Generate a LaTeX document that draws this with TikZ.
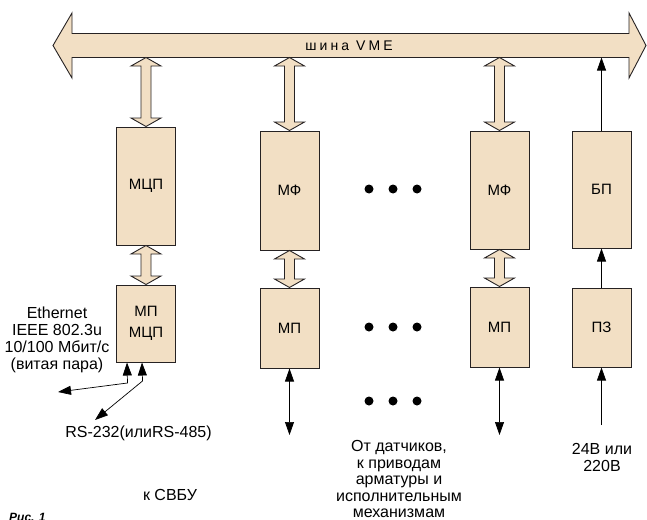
\documentclass[tikz,border=0pt]{standalone}
\usepackage{fontspec}
\setmainfont{Liberation Sans}
\usetikzlibrary{arrows.meta,calc}
\definecolor{beige}{RGB}{242,223,196}
\definecolor{edge}{RGB}{38,34,35}
\newcommand\fatarr[2]{%
  \path[fat] let \p1=#1, \p2=#2 in
  (\x1,\y1) -- (\x1+15pt,\y1-8.5pt) -- (\x1+5pt,\y1-8.5pt) -- (\x1+5pt,\y2+8.5pt)
  -- (\x1+15pt,\y2+8.5pt) -- (\x1,\y2) -- (\x1-15pt,\y2+8.5pt) -- (\x1-5pt,\y2+8.5pt)
  -- (\x1-5pt,\y1-8.5pt) -- (\x1-15pt,\y1-8.5pt) -- cycle;}
\begin{document}
\begin{tikzpicture}[x=1pt,y=-1pt,
  box/.style={draw=edge,fill=beige,line width=1pt,minimum width=59pt,inner sep=0pt,
    font=\fontsize{15}{21}\selectfont},
  fat/.style={draw=edge,fill=beige,line width=0.9pt,line join=miter},
  arrA/.style={draw=black,line width=0.7pt,-{Triangle[length=13pt,width=9pt]}},
  arrB/.style={draw=black,line width=0.7pt,{Triangle[length=13pt,width=9pt]}-{Triangle[length=13pt,width=9pt]}},
  dot/.style={circle,fill=black,inner sep=0pt,minimum size=9pt},
  lbl/.style={align=center,inner sep=0pt,font=\fontsize{16}{17}\selectfont}]
\useasboundingbox (0,0) rectangle (647,519);
% bus
\coordinate (busL) at (53,45.5);
\coordinate (busR) at (646,45.5);
\path[fat] (busL) -- (72,13) -- (72,33.5) -- (629,33.5) -- (629,13) -- (busR)
  -- (629,78) -- (629,57.5) -- (72,57.5) -- (72,78) -- cycle;
\node[inner sep=0pt,font=\fontsize{14}{16}\selectfont] (bus) at (349,45.5)
  {\addfontfeature{LetterSpace=22}шина VME};
\coordinate (b1) at (146,57.5);
\coordinate (b2) at (289.5,57.5);
\coordinate (b3) at (499.5,57.5);
\coordinate (b4) at (601.5,57.5);
% boxes
\node[box,minimum height=118pt] (mcp) at (146,186) {МЦП};
\node[box,minimum height=77pt,align=center] (mpmcp) at (146,323.5) {МП\\МЦП};
\node[box,minimum height=119pt] (mf1) at (289.5,190.5) {МФ};
\node[box,minimum height=80pt] (mp1) at (289.5,328) {МП};
\node[box,minimum height=118pt] (mf2) at (499.5,190) {МФ};
\node[box,minimum height=80pt] (mp2) at (499.5,327) {МП};
\node[box,minimum height=117pt] (bp) at (601.5,189.5) {БП};
\node[box,minimum height=79pt] (pz) at (601.5,327.5) {ПЗ};
% fat arrows
\fatarr{(b1)}{(mcp.north)}
\fatarr{(mcp.south)}{(mpmcp.north)}
\fatarr{(b2)}{(mf1.north)}
\fatarr{(mf1.south)}{(mp1.north)}
\fatarr{(b3)}{(mf2.north)}
\fatarr{(mf2.south)}{(mp2.north)}
% thin arrows
\coordinate (e1) at (289.5,435);
\coordinate (e2) at (499.5,435);
\coordinate (e3) at (601.5,425);
\draw[arrB] (mp1.south) -- (e1);
\draw[arrB] (mp2.south) -- (e2);
\draw[arrA] (e3) -- (pz.south);
\draw[arrA] (pz.north) -- (bp.south);
\draw[arrA] (bp.north) -- (b4);
\coordinate (p1) at ($(mpmcp.south west)+(11,0)$);
\coordinate (p2) at ($(mpmcp.south west)+(26,0)$);
\coordinate (k1) at (127.5,383);
\coordinate (k2) at (142.5,381);
\coordinate (eth) at (58,392);
\coordinate (rs) at (95,420);
\draw[arrB] (eth) -- (k1) -- (p1);
\draw[arrB] (rs) -- (k2) -- (p2);
% dots
\foreach \x [count=\i] in {369,393,417}{
  \foreach \y [count=\j] in {189,327,401}{
    \node[dot] (d\i\j) at (\x,\y) {};
  }
}
% labels
\node[lbl] (ethl) at (57,340) {Ethernet\\IEEE 802.3u\\10/100 Мбит/с\\(витая пара)};
\node[lbl] (rsl) at (138.5,433) {RS-232(илиRS-485)};
\node[lbl] (svbu) at (170,495) {к СВБУ};
\node[lbl,font=\fontsize{16}{16.5}\selectfont] (sens) at (399,479)
  {От датчиков,\\к приводам\\арматуры и\\исполнительным\\механизмам};
\node[lbl] (pwr) at (602,457) {24В или\\220В};
\node[inner sep=0pt,anchor=north west,font=\fontsize{12}{14}\selectfont\bfseries\itshape] (fig) at (9,513.5) {Рис. 1};
\end{tikzpicture}
\end{document}
